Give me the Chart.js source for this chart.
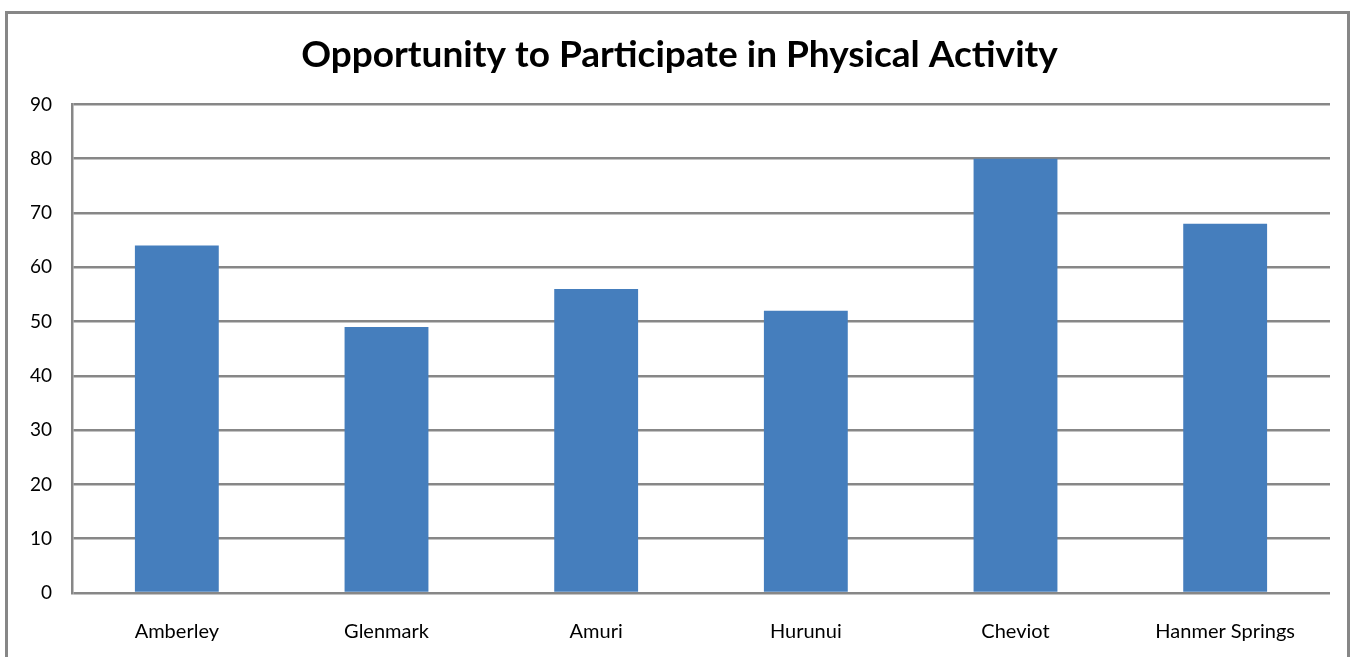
<!DOCTYPE html>
<html>
<head>
<meta charset="utf-8">
<script src="https://cdn.jsdelivr.net/npm/chart.js@4"></script>
<style>
  html, body { margin: 0; padding: 0; background: #fff; overflow: hidden; }
  #wrap { position: relative; width: 1359px; height: 657px; }
  #frame { position: absolute; left: 5px; top: 11px; width: 1345px; height: 700px; border: 3px solid #878787; box-sizing: border-box; }
  canvas { position: absolute; left: 0; top: 0; }
</style>
</head>
<body>
<div id="wrap">
  <div id="frame"></div>
  <canvas id="chart" width="1359" height="657"></canvas>
</div>
<script>
const categories = ['Amberley', 'Glenmark', 'Amuri', 'Hurunui', 'Cheviot', 'Hanmer Springs'];
const values = [64, 49, 56, 52, 80, 68];
const yTicks = [0, 10, 20, 30, 40, 50, 60, 70, 80, 90];

const fontFamily = 'Lato, "Open Sans", sans-serif';
const gridColor = '#878787';

const ctx = document.getElementById('chart').getContext('2d');
new Chart(ctx, {
  type: 'bar',
  data: {
    labels: categories,
    datasets: [{
      label: 'Opportunity',
      data: values,
      backgroundColor: '#457EBD',
      barPercentage: 0.4,
      categoryPercentage: 1
    }]
  },
  options: {
    responsive: false,
    animation: false,
    layout: { padding: { left: 0, right: 0, top: 33, bottom: 0 } },
    plugins: {
      legend: { display: false },
      tooltip: { enabled: false },
      title: {
        display: true,
        text: 'Opportunity to Participate in Physical Activity',
        color: '#000',
        font: { family: fontFamily, size: 37, weight: 'bold' },
        padding: { top: 0, bottom: 27 }
      }
    },
    scales: {
      x: {
        grid: { display: false },
        border: { display: false },
        ticks: { color: '#000', font: { family: fontFamily, size: 20 }, padding: 19, maxRotation: 0 },
        afterFit: s => { s.height = 64; }
      },
      y: {
        min: 0,
        max: 90,
        afterBuildTicks: s => { s.ticks = yTicks.map(v => ({ value: v })); },
        grid: { color: gridColor, lineWidth: 2.5, drawTicks: false },
        border: { display: true, color: gridColor, width: 2.5 },
        ticks: { color: '#000', font: { family: fontFamily, size: 19 }, padding: 20 },
        afterFit: s => { s.width = 72; }
      },
      // empty right axis, only reserves the margin right of the plot
      yRight: {
        position: 'right',
        min: 0,
        max: 90,
        grid: { display: false },
        border: { display: false },
        ticks: { display: false },
        afterFit: s => { s.width = 29; }
      }
    }
  }
});
</script>
</body>
</html>
